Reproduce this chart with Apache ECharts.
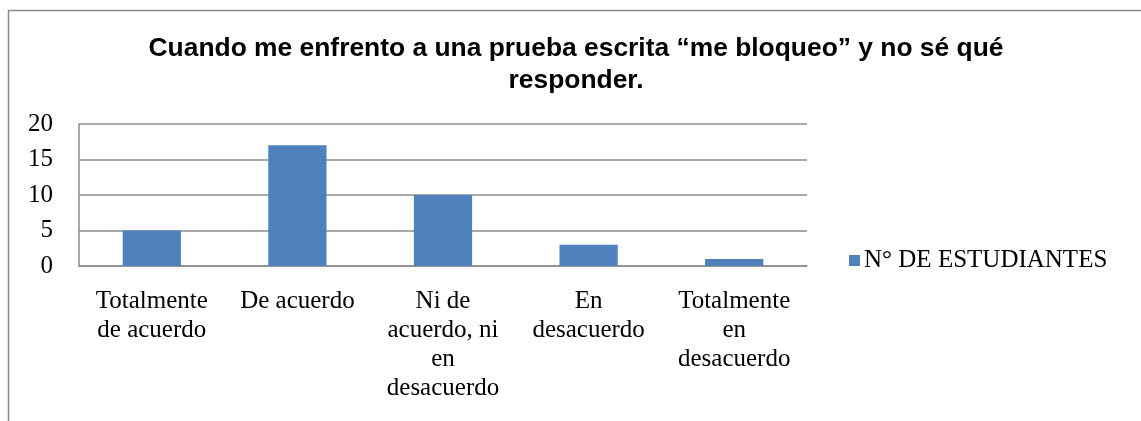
<!DOCTYPE html>
<html>
<head>
<meta charset="utf-8">
<script src="https://cdn.jsdelivr.net/npm/echarts@6/dist/echarts.min.js"></script>
<style>
  html, body { margin: 0; padding: 0; background: #fff; }
  #main { width: 1141px; height: 421px; }
</style>
</head>
<body>
<div id="main"></div>
<script>
// datos del gráfico
const title_text = 'Cuando me enfrento a una prueba escrita “me bloqueo” y no sé qué\nresponder.'
const categories = [
    'Totalmente\nde acuerdo',
    'De acuerdo',
    'Ni de\nacuerdo, ni\nen\ndesacuerdo',
    'En\ndesacuerdo',
    'Totalmente\nen\ndesacuerdo'
]
const series_name = 'N° DE ESTUDIANTES'
const values = [5, 17, 10, 3, 1]
const y_ticks = [0, 5, 10, 15, 20]

const grid_color = '#8c8c8c'
const serif = 'Liberation Serif'

var myChart = echarts.init(document.getElementById('main'));

var option = {
    animation: false,
    backgroundColor: '#fff',
    graphic: [{
        type: 'rect',
        shape: { x: 8.5, y: 10.5, width: 1300, height: 600 },
        style: { fill: 'none', stroke: '#8a8a8a', lineWidth: 1.5 },
        silent: true
    }],
    title: {
        text: title_text,
        left: 571,
        textAlign: 'center',
        top: 28,
        textStyle: {
            fontFamily: 'Liberation Sans',
            fontWeight: 'bold',
            fontSize: 26.4,
            lineHeight: 32,
            color: '#000'
        }
    },
    legend: {
        left: 849,
        top: 248,
        padding: 0,
        itemWidth: 11,
        itemHeight: 11,
        itemGap: 10,
        icon: 'rect',
        textStyle: {
            fontFamily: serif,
            fontSize: 25,
            color: '#000',
            padding: [0, 0, 0, -1]
        },
        data: [series_name]
    },
    grid: {
        left: 79,
        right: 334,
        top: 124,
        bottom: 155,
        containLabel: false
    },
    xAxis: {
        type: 'category',
        data: categories,
        axisLine: { show: true, lineStyle: { color: grid_color, width: 1.5 } },
        axisTick: { show: false },
        axisLabel: {
            interval: 0,
            margin: 21,
            fontFamily: serif,
            fontSize: 25,
            lineHeight: 29,
            color: '#000'
        }
    },
    yAxis: {
        type: 'value',
        min: y_ticks[0],
        max: y_ticks[y_ticks.length - 1],
        interval: 5,
        axisLine: { show: true, lineStyle: { color: grid_color, width: 1.5 } },
        axisTick: { show: false },
        splitLine: { show: true, lineStyle: { color: grid_color, width: 1.5 } },
        axisLabel: {
            margin: 26,
            fontFamily: serif,
            fontSize: 25,
            color: '#000'
        }
    },
    series: [{
        name: series_name,
        type: 'bar',
        data: values,
        barWidth: '40%',
        itemStyle: { color: '#4f81bd' }
    }]
};

myChart.setOption(option);
</script>
</body>
</html>
